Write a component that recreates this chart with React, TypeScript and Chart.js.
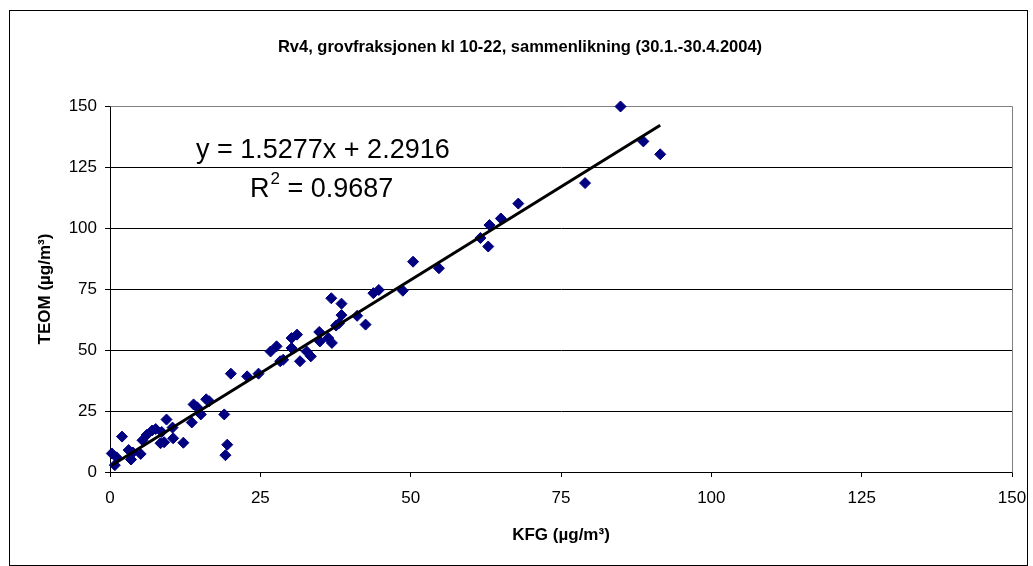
import { useEffect, useRef } from "react";
import { Chart, registerables } from "chart.js";

Chart.register(...registerables);

const TITLE = "Rv4, grovfraksjonen kl 10-22, sammenlikning (30.1.-30.4.2004)";
const X_TITLE = "KFG (µg/m³)";
const Y_TITLE = "TEOM (µg/m³)";
const EQUATION = "y = 1.5277x + 2.2916";
const R2_VALUE = " = 0.9687";

const SLOPE = 1.5277;
const INTERCEPT = 2.2916;

const AXIS_MIN = 0;
const AXIS_MAX = 150;
const AXIS_STEP = 25;

// KFG (x) values
const kfg = [
  0.3, 1.1, 0.8, 2.0, 3.1, 3.5, 3.8, 5.1, 5.4, 6.1, 7.0, 7.6, 8.6, 8.4, 9.0,
  9.4, 10.4, 10.5, 12.2, 13.6, 13.9, 14.5, 15.1, 16.0, 16.5, 19.0, 19.5, 19.2,
  20.1, 22.8, 24.7, 26.7, 27.7, 28.3, 28.8, 30.2, 31.1, 30.2, 31.6, 32.7, 33.4,
  34.8, 34.9, 36.3, 36.9, 36.8, 38.5, 38.5, 38.1, 37.6, 41.1, 42.5, 43.8, 44.7,
  48.7, 50.4, 54.7, 61.6, 62.9, 63.1, 65.0, 67.9, 79.0, 84.9, 88.7, 91.5,
];

// TEOM (y) values
const teom = [
  7.6, 6.0, 2.8, 14.5, 9.0, 5.1, 8.0, 7.4, 13.0, 15.2, 17.0, 17.6, 16.4, 11.8,
  12.2, 21.5, 18.2, 13.8, 12.0, 20.3, 27.7, 26.5, 23.6, 29.8, 29.0, 23.6, 11.2,
  6.9, 40.3, 39.2, 40.3, 49.4, 51.5, 45.4, 46.0, 54.9, 56.3, 50.8, 45.4, 49.4,
  47.4, 57.4, 53.5, 54.9, 52.9, 71.2, 69.0, 64.3, 61.0, 60.0, 64.0, 60.4, 73.3,
  74.6, 74.3, 86.2, 83.5, 95.9, 92.4, 101.2, 103.9, 110.0, 118.4, 149.8, 135.5,
  130.2,
];

const FONT = "'Liberation Sans', Arial, sans-serif";

export default function App() {
  const ref = useRef<HTMLCanvasElement>(null);

  useEffect(() => {
    const canvas = ref.current;
    if (!canvas) return;
    const points = kfg.map((x, i) => ({ x, y: teom[i] }));
    const xmin = Math.min(...kfg);
    const xmax = Math.max(...kfg);
    const trend = [
      { x: xmin, y: SLOPE * xmin + INTERCEPT },
      { x: xmax, y: SLOPE * xmax + INTERCEPT },
    ];

    const framePlugin = {
      id: "frame",
      beforeDraw(chart: any) {
        const c = chart.ctx;
        c.save();
        c.fillStyle = "#fff";
        c.fillRect(0, 0, chart.width, chart.height);
        c.strokeStyle = "#000";
        c.lineWidth = 1;
        c.strokeRect(9.5, 10.5, 1018, 555);
        c.restore();
      },
      beforeDatasetsDraw(chart: any) {
        const a = chart.chartArea;
        const c = chart.ctx;
        c.save();
        c.strokeStyle = "#808080";
        c.lineWidth = 1;
        c.beginPath();
        c.moveTo(Math.round(a.left) + 0.5, Math.round(a.top) + 0.5);
        c.lineTo(Math.round(a.right) + 0.5, Math.round(a.top) + 0.5);
        c.lineTo(Math.round(a.right) + 0.5, Math.round(a.bottom) + 0.5);
        c.stroke();
        c.restore();
      },
      afterDraw(chart: any) {
        const c = chart.ctx;
        c.save();
        c.fillStyle = "#000";
        c.textBaseline = "alphabetic";
        c.textAlign = "left";
        c.font = `27px ${FONT}`;
        c.fillText(EQUATION, 196, 158);
        let x = 250;
        c.fillText("R", x, 197);
        x += c.measureText("R").width;
        c.font = `17px ${FONT}`;
        c.fillText("2", x + 1, 184);
        x += c.measureText("2").width + 1;
        c.font = `27px ${FONT}`;
        c.fillText(R2_VALUE, x, 197);
        c.restore();
      },
    };

    const chart = new Chart(canvas, {
      type: "scatter",
      data: {
        datasets: [
          {
            type: "line",
            data: trend,
            borderColor: "#000",
            borderWidth: 3,
            pointRadius: 0,
            fill: false,
            clip: false,
          },
          {
            data: points,
            backgroundColor: "#000080",
            borderColor: "#000080",
            borderWidth: 1,
            pointStyle: "rectRot",
            pointRadius: 5.5,
            clip: false,
          },
        ],
      } as any,
      options: {
        responsive: false,
        animation: false,
        layout: { padding: { left: 28, right: 21, top: 0, bottom: 0 } },
        plugins: {
          legend: { display: false },
          tooltip: { enabled: false },
          title: {
            display: true,
            text: TITLE,
            color: "#000",
            font: { family: FONT, size: 16.5, weight: "bold" },
            padding: { top: 37.5, bottom: 48.7 },
          },
        },
        scales: {
          x: {
            type: "linear",
            min: AXIS_MIN,
            max: AXIS_MAX,
            ticks: {
              stepSize: AXIS_STEP,
              color: "#000",
              font: { family: FONT, size: 17 },
              padding: 11,
              maxRotation: 0,
            },
            grid: {
              drawOnChartArea: false,
              drawTicks: true,
              tickLength: 5,
              color: "#000",
            },
            border: { color: "#000", width: 1 },
            title: {
              display: true,
              text: X_TITLE,
              color: "#000",
              font: { family: FONT, size: 17, weight: "bold" },
              padding: { top: 0, bottom: 20 },
            },
            afterFit: (s: any) => {
              s.height = 94;
              s.paddingLeft = 0;
              s.paddingRight = 0;
            },
          },
          y: {
            type: "linear",
            min: AXIS_MIN,
            max: AXIS_MAX,
            ticks: {
              stepSize: AXIS_STEP,
              color: "#000",
              font: { family: FONT, size: 17 },
              padding: 8,
            },
            grid: {
              drawTicks: true,
              tickLength: 5,
              color: "#000",
            },
            border: { color: "#000", width: 1 },
            title: {
              display: true,
              text: Y_TITLE,
              color: "#000",
              font: { family: FONT, size: 17, weight: "bold" },
              padding: { top: 7, bottom: 0 },
            },
            afterFit: (s: any) => {
              s.width = 82;
              s.paddingTop = 0;
              s.paddingBottom = 0;
            },
          },
        },
      } as any,
      plugins: [framePlugin],
    });
    return () => chart.destroy();
  }, []);

  return (
    <div style={{ position: "fixed", left: 0, top: 0, width: 1033, height: 566 }}>
      <canvas ref={ref} width={1033} height={566} style={{ display: "block" }} />
    </div>
  );
}
